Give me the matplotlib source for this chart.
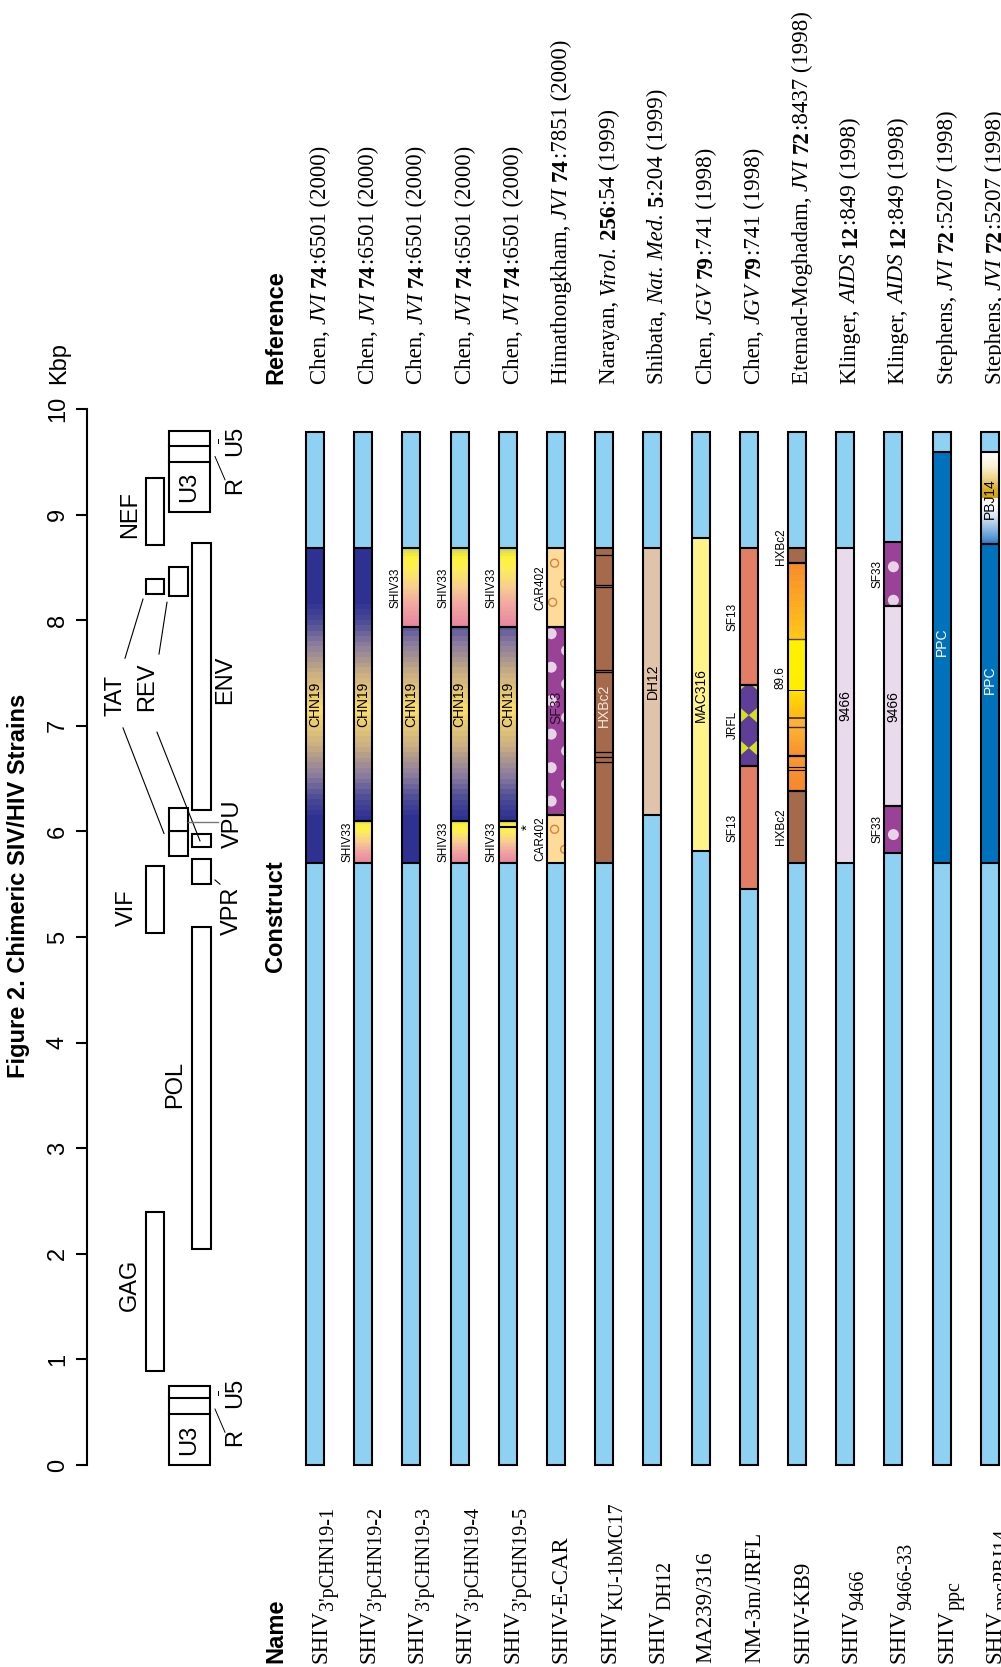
import numpy as np
import matplotlib
matplotlib.use('Agg')
import matplotlib.pyplot as plt
from matplotlib.patches import Rectangle, Ellipse, Polygon
from matplotlib.colors import LinearSegmentedColormap

SANS = 'Liberation Sans'
SERIF = 'Liberation Serif'
plt.rcParams['font.family'] = SANS

# ---------------- data ----------------
# genome map of the SIV/HIV backbone (kbp)
gene_names = ['GAG', 'POL', 'VIF', 'VPR', 'TAT1', 'VPU', 'REV1', 'ENV', 'TAT2', 'REV2', 'NEF']
gene_start = [0.89, 2.05, 5.04, 5.50, 5.77, 6.00, 5.85, 6.20, 8.25, 8.23, 8.71]
gene_end = [2.40, 5.09, 5.67, 5.74, 6.00, 6.22, 5.98, 8.73, 8.39, 8.50, 9.35]
gene_lane = ['A', 'B', 'A', 'B', 'M', 'M', 'B', 'B', 'A', 'M', 'A']
ltr_start = [0.0, 9.02]
ltr_r = [0.48, 9.50]
ltr_u5 = [0.63, 9.65]
ltr_end = [0.75, 9.79]

# constructs
name_main = ['SHIV', 'SHIV', 'SHIV', 'SHIV', 'SHIV', 'SHIV-E-CAR', 'SHIV', 'SHIV',
             'MA239/316', 'NM-3m/JRFL', 'SHIV-KB9', 'SHIV', 'SHIV', 'SHIV', 'SHIV']
name_sub = ["3'pCHN19-1", "3'pCHN19-2", "3'pCHN19-3", "3'pCHN19-4", "3'pCHN19-5", '',
            'KU-1bMC17', 'DH12', '', '', '', '9466', '9466-33', 'ppc', 'ppcPBJ14']
ref_author = ['Chen', 'Chen', 'Chen', 'Chen', 'Chen', 'Himathongkham', 'Narayan', 'Shibata',
              'Chen', 'Chen', 'Etemad-Moghadam', 'Klinger', 'Klinger', 'Stephens', 'Stephens']
ref_journal = ['JVI', 'JVI', 'JVI', 'JVI', 'JVI', 'JVI', 'Virol.', 'Nat. Med.',
               'JGV', 'JGV', 'JVI', 'AIDS', 'AIDS', 'JVI', 'JVI']
ref_volume = ['74', '74', '74', '74', '74', '74', '256', '5', '79', '79', '72', '12', '12', '72', '72']
ref_page = ['6501', '6501', '6501', '6501', '6501', '7851', '54', '204', '741', '741',
            '8437', '849', '849', '5207', '5207']
ref_year = ['2000', '2000', '2000', '2000', '2000', '2000', '1999', '1999', '1998', '1998',
            '1998', '1998', '1998', '1998', '1998']
genome_len = 9.78

# inserted segments: construct index, start, end (kbp), source strain
seg_bar = [0, 1, 1, 2, 2, 3, 3, 3, 4, 4, 4, 5, 5, 5, 6, 7, 8, 9, 9, 9,
           10, 10, 10, 11, 12, 12, 12, 13, 14, 14]
seg_lo = [5.70, 5.70, 6.10, 5.70, 7.94, 5.70, 6.10, 7.94, 5.70, 6.10, 7.94, 5.70, 6.16, 7.94,
          5.70, 6.16, 5.81, 5.45, 6.62, 7.39, 5.70, 6.38, 8.54, 5.70, 5.80, 6.24, 8.13,
          5.70, 5.70, 8.72]
seg_hi = [8.68, 6.10, 8.68, 7.94, 8.68, 6.10, 7.94, 8.68, 6.10, 7.94, 8.68, 6.16, 7.94, 8.68,
          8.68, 8.68, 8.78, 6.62, 7.39, 8.68, 6.38, 8.54, 8.68, 8.68, 6.24, 8.13, 8.74,
          9.59, 8.72, 9.59]
seg_strain = ['CHN19', 'SHIV33', 'CHN19', 'CHN19', 'SHIV33', 'SHIV33', 'CHN19', 'SHIV33',
              'SHIV33', 'CHN19', 'SHIV33', 'CAR402', 'SF33', 'CAR402', 'HXBc2', 'DH12',
              'MAC316', 'SF13', 'JRFL', 'SF13', 'HXBc2', '89.6', 'HXBc2', '9466', 'SF33',
              '9466', 'SF33', 'PPC', 'PPC', 'PBJ14']
mutation_bar = 4
mutation_kbp = 6.04
ku_stripes = [8.62, 8.33, 8.31, 7.53, 7.51, 6.75, 6.70, 6.66]
kb9_edges = [6.38, 6.58, 6.61, 6.71, 6.99, 7.07, 7.34, 7.82, 8.54]

# ---------------- layout / style ----------------
W, H = 1001, 1667
PX_KBP = 105.6      # pixels per kbp
PX_TRK = 48.2       # pixels between construct bars
K0_PX = 1465        # pixel row of 0 kbp
X0_PX = 315         # pixel column of first construct
YLO = -(H - K0_PX) / PX_KBP
YHI = K0_PX / PX_KBP
BW = 18 / PX_TRK
LW = 1.5
LIGHT = '#8ed1f2'

FLAT = {'CAR402': '#fedb99', 'SF33': '#9a4198', 'HXBc2': '#a5694b', 'DH12': '#dfc4ab',
        'MAC316': '#fff38a', 'SF13': '#e27e66', 'JRFL': '#5f3e97', '9466': '#e9dbec',
        'PPC': '#0071bb'}
INNER_COLOR = {'CHN19': 'black', 'SF33': '#2b0f2e', 'HXBc2': '#f4e6dc', 'DH12': 'black',
               'MAC316': 'black', '9466': 'black', 'PPC': 'white', 'PBJ14': 'black'}
LABEL_NUDGE = {12: 0.12, 22: 0.09, 27: 0.15, 28: 0.23}
CHN_MID, CHN_HALF, CHN_LABEL = 7.15, 1.0, 7.2

chn_cmap = LinearSegmentedColormap.from_list('chn', [
    (0, '#f8da6a'), (0.3, '#cdb181'), (0.6, '#8a7b9e'), (0.82, '#4a4a96'), (1, '#2e3192')])
shiv33_cmap = LinearSegmentedColormap.from_list('s33', [
    (0, '#e8879f'), (0.25, '#f2a6a2'), (0.5, '#f8cf8e'), (0.72, '#fdee58'),
    (0.86, '#fff23a'), (1, '#c6d55e')])
pbj_cmap = LinearSegmentedColormap.from_list('pbj', [
    (0, '#2c80c8'), (0.12, '#78acdc'), (0.3, '#dbe6f4'), (0.42, '#ffffff'),
    (0.495, '#fffbee'), (0.5, '#d6a300'), (0.6, '#dcb02a'), (0.72, '#eed88e'),
    (0.85, '#faf2d8'), (1, '#ffffff')])
kb9_colors = [('#f6892d', '#f7922e'), ('#f7922e', '#f7922e'), ('#f7922e', '#f89a30'),
              ('#f7912e', '#fdb733'), ('#fbb03b', '#fbb03b'), ('#ffb915', '#ffe400'),
              ('#ffee00', '#fff200'), ('#ffc61a', '#f6892d')]
kb9_lines = [(0.8, 'black'), (0.8, 'black'), (1.6, 'black'), (1.0, '#3a2a10'),
             (1.4, '#5b3a0a'), (0.7, 'black'), (1.0, '#5b3a0a')]

fig = plt.figure(figsize=(W / 100, H / 100), dpi=100)
ax = fig.add_axes([0, 0, 1, 1])
ax.set_axis_off()

# genome axes: x in pixels right of the scale line
gx = fig.add_axes([87 / W, 0, 203 / W, 1])
gx.patch.set_visible(False)
for s in ['top', 'right', 'bottom']:
    gx.spines[s].set_visible(False)
gx.spines['left'].set_bounds(0, 10)
gx.spines['left'].set_linewidth(1.5)
gx.set_xticks([])
gx.set_yticks(range(11))
gx.tick_params(axis='y', length=8, width=1.5, pad=5, labelsize=17, labelrotation=90)
for lab in gx.get_yticklabels():
    lab.set_va('center')

LANES = {'A': (59, 18), 'M': (82, 19), 'B': (105, 19)}
for g, s, e, ln in zip(gene_names, gene_start, gene_end, gene_lane):
    x0, w = LANES[ln]
    gx.add_patch(Rectangle((x0, s), w, e - s, fc='white', ec='black', lw=1.5))
for s, r, u5, e in zip(ltr_start, ltr_r, ltr_u5, ltr_end):
    gx.add_patch(Rectangle((82, s), 41, e - s, fc='white', ec='black', lw=1.5))
    gx.plot([82, 123], [r, r], color='black', lw=1.5)
    gx.plot([82, 123], [u5, u5], color='black', lw=1.5)
    gx.text(102, (s + r) / 2, 'U3', rotation=90, ha='center', va='center', fontsize=17)
    gx.text(148, s + 0.26, 'R', rotation=90, ha='center', va='center', fontsize=17)
    gx.text(148, s + 0.68, 'U5', rotation=90, ha='center', va='center', fontsize=17)
    gx.plot([128, 138], [r + 0.05, r - 0.17], color='black', lw=0.7)
    gx.plot([131, 131], [u5 + 0.03, u5 + 0.07], color='black', lw=0.7)

gene_labels = [('GAG', 43, 1.71), ('POL', 88, 3.6), ('VIF', 40, 5.28), ('TAT', 28, 7.29),
               ('REV', 60, 7.37), ('ENV', 138, 7.44), ('NEF', 43, 9.0), ('VPR', 145, 5.25),
               ('VPU', 146, 6.07)]
for t, x, k in gene_labels:
    gx.text(x, k, t, rotation=90, ha='center', va='center', fontsize=17)
leaders = [((38, 7.64), (56, 8.20)), ((36, 6.98), (77, 5.98)), ((72, 7.68), (80, 8.17)),
           ((70, 6.94), (113, 5.91)), ((128, 5.54), (133, 5.50))]
for (xa, ka), (xb, kb) in leaders:
    gx.plot([xa, xb], [ka, kb], color='black', lw=0.8)
gx.plot([101, 131], [6.09, 6.09], color='#777777', lw=1.0)
gx.text(-28, (K0_PX - 384) / PX_KBP, 'Kbp', rotation=90, rotation_mode='anchor',
        ha='left', va='center', fontsize=17)
gx.set_xlim(0, 203)
gx.set_ylim(YLO, YHI)

# ---------------- construct bars ----------------
def hline(i, k, lw=LW, color='black'):
    ax.plot([i - BW / 2, i + BW / 2], [k, k], color=color, lw=lw,
            solid_capstyle='butt', zorder=3)

def grad(i, lo, hi, cmap, values):
    img = cmap(values)[:, None, :3]
    ax.imshow(img, extent=(i - BW / 2, i + BW / 2, lo, hi), origin='lower',
              aspect='auto', interpolation='nearest', zorder=2)

for i in range(len(name_main)):
    ax.add_patch(Rectangle((i - BW / 2, 0), BW, genome_len, fc=LIGHT, ec='none', zorder=1))

dot_w, dot_h = 11 / PX_TRK, 11 / PX_KBP
for n, (i, lo, hi, st) in enumerate(zip(seg_bar, seg_lo, seg_hi, seg_strain)):
    x0 = i - BW / 2
    if st == 'CHN19':
        k = np.linspace(lo, hi, 400)
        d = np.floor(np.clip(np.abs(k - CHN_MID) / CHN_HALF, 0, 1) * 20) / 20
        grad(i, lo, hi, chn_cmap, d)
    elif st == 'SHIV33':
        grad(i, lo, hi, shiv33_cmap, np.floor(np.linspace(0, 1, 400) * 30) / 30)
    elif st == 'PBJ14':
        grad(i, lo, hi, pbj_cmap, np.linspace(0, 1, 400))
    elif st == '89.6':
        for (a, b), (c0, c1) in zip(zip(kb9_edges[:-1], kb9_edges[1:]), kb9_colors):
            cm = LinearSegmentedColormap.from_list('b', [c0, c1])
            grad(i, a, b, cm, np.floor(np.linspace(0, 1, 100) * 12) / 12)
        for kk, (lw, col) in zip(kb9_edges[1:-1], kb9_lines):
            hline(i, kk, lw=lw, color=col)
    else:
        rect = Rectangle((x0, lo), BW, hi - lo, fc=FLAT[st], ec='none', zorder=2)
        ax.add_patch(rect)
        pats = []
        if st == 'CAR402':
            for dx, dk in [(-0.03, -0.14), (0.18, -0.33), (-0.07, -0.51)]:
                pats.append(Ellipse((i + dx, hi + dk), 8 / PX_TRK, 8 / PX_KBP,
                                    fc='none', ec='#d4843c', lw=1.0, zorder=2.5))
        elif st == 'SF33':
            ks = 5.97 + 0.317 * np.arange(-2, 12)
            if hi - lo > 1:
                cols = [(-0.1, 0.0), (0.22, 0.158)]
            else:
                cols = [(0.0, 0.0)]
            for dx, ph in cols:
                for kk in ks + ph:
                    if lo - 0.1 < kk < hi + 0.1:
                        pats.append(Ellipse((i + dx, kk), dot_w, dot_h, fc='#e8d2e8',
                                            ec='none', zorder=2.5))
        elif st == 'JRFL':
            h = 0.075
            for kk in hi + 0.02 - 0.31 * np.arange(4):
                pats.append(Polygon([(x0, kk - h), (x0, kk + h), (i, kk)], closed=True,
                                    fc='#d5e021', ec='none', zorder=2.5))
                pats.append(Polygon([(x0 + BW, kk - h), (x0 + BW, kk + h), (i, kk)],
                                    closed=True, fc='#d5e021', ec='none', zorder=2.5))
        elif st == 'HXBc2' and i == 6:
            for kk in ku_stripes:
                hline(i, kk, lw=0.9)
        for p in pats:
            ax.add_patch(p)
            p.set_clip_path(rect)
    hline(i, lo)
    hline(i, hi)

    # labels
    inside = st in INNER_COLOR and not (st in ('SF33', 'HXBc2') and hi - lo < 1.0)
    kc = CHN_LABEL if st == 'CHN19' else (lo + hi) / 2 + LABEL_NUDGE.get(n, 0)
    if inside:
        ax.text(i, kc, st, rotation=90, rotation_mode='anchor', ha='center', va='center',
                fontsize=10, color=INNER_COLOR[st], zorder=4)
    else:
        ax.text(i - 13 / PX_TRK, kc, st, rotation=90, rotation_mode='anchor', ha='center',
                va='baseline', fontsize=8.5, color='black', zorder=4)

hline(mutation_bar, mutation_kbp)
ax.text(mutation_bar + 0.40, mutation_kbp, '*', rotation=90, ha='center', va='center',
        fontsize=11, zorder=4)

for i in range(len(name_main)):
    ax.add_patch(Rectangle((i - BW / 2, 0), BW, genome_len, fc='none', ec='black',
                           lw=LW, zorder=3.5))

# ---------------- rotated text runs ----------------
renderer = fig.canvas.get_renderer()

def advance(s, **kw):
    t = fig.text(0, 0, s + '|', **kw)
    w = t.get_window_extent(renderer).width
    t.remove()
    t = fig.text(0, 0, '|', **kw)
    w -= t.get_window_extent(renderer).width
    t.remove()
    return w

def run(x, k, pieces):
    for s, dx, kw in pieces:
        ax.text(x + dx, k, s, rotation=90, rotation_mode='anchor', ha='left',
                va='baseline', zorder=4, **kw)
        k += advance(s, **kw) / PX_KBP

def serif(kind='n', size=16.5):
    return dict(family=SERIF, size=size, style='italic' if kind == 'i' else 'normal',
                weight='bold' if kind == 'b' else 'normal')

k_ref = (K0_PX - 384) / PX_KBP
k_name = (K0_PX - 1663) / PX_KBP
for i in range(len(name_main)):
    run(i + 11 / PX_TRK, k_ref, [
        (f'{ref_author[i]}, ', 0, serif()), (ref_journal[i], 0, serif('i')),
        (' ', 0, serif()), (ref_volume[i], 0, serif('b')),
        (f':{ref_page[i]} ({ref_year[i]})', 0, serif())])
    pieces = [(name_main[i], 0, serif(size=16.5))]
    if name_sub[i]:
        pieces.append((name_sub[i], 7 / PX_TRK, serif(size=14.5)))
    run(i + 11 / PX_TRK, k_name, pieces)

hx = (282 - X0_PX) / PX_TRK
for t, k in [('Reference', k_ref), ('Construct', (K0_PX - 972) / PX_KBP), ('Name', k_name)]:
    ax.text(hx, k, t, rotation=90, rotation_mode='anchor', ha='left', va='baseline',
            fontsize=17, weight='bold')

fig.text(19 / W, 1 - 886 / H, 'Figure 2. Chimeric SIV/HIV Strains', rotation=90,
         ha='center', va='center', fontsize=17, weight='bold')

ax.set_xlim(-X0_PX / PX_TRK, (W - X0_PX) / PX_TRK)
ax.set_ylim(YLO, YHI)
fig.savefig('out.png', dpi=100)
